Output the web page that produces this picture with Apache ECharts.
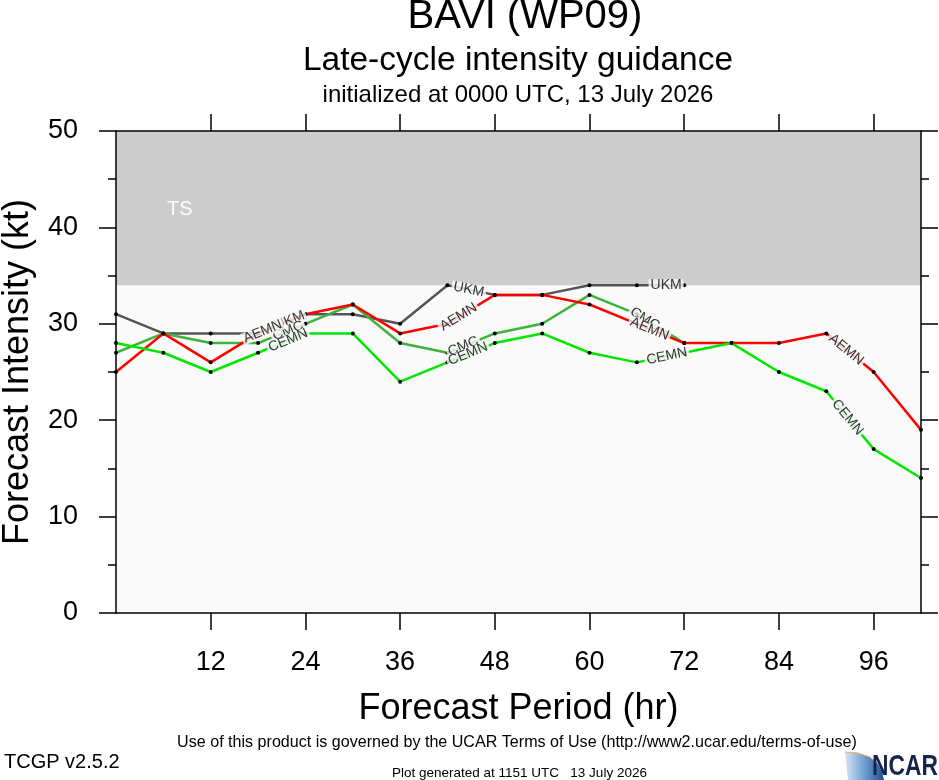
<!DOCTYPE html>
<html><head><meta charset="utf-8">
<script src="https://cdn.jsdelivr.net/npm/echarts@6/dist/echarts.min.js"></script>
<style>html,body{margin:0;padding:0;background:#fff}#c{width:939px;height:780px}</style>
</head><body><div id="c"></div>
<script>
// ---- data ----
const hours = [0,6,12,18,24,30,36,42,48,54,60,66,72,78,84,90,96,102];
const ukm  = [31,29,29,29,31,31,30,34,33,33,34,34,34];
const aemn = [25,29,26,29,31,32,29,30,33,33,32,30,28,28,28,29,25,19];
const cmc  = [27,29,28,28,30,32,28,27,29,30,33,31,28];
const cemn = [28,27,25,27,29,29,24,26,28,29,27,26,27,28,25,23,17,14];
const xTickValues = [12,24,36,48,60,72,84,96];
const tsBand = [34, 50];
const tsLabel = 'TS';
// hour positions of the in-line model labels
const ukmLabelHours  = [22, 44.7, 69.7];
const aemnLabelHours = [18.6, 43.4, 67.6, 92.5];
const cmcLabelHours  = [21.8, 44, 67];
const cemnLabelHours = [21.8, 44.6, 69.8, 92.7];

const FONT = "'Liberation Sans', Arial, Helvetica, sans-serif";
const models = [
  {name:'UKM',  vals:ukm,  color:'#555555', lh:ukmLabelHours},
  {name:'CMC',  vals:cmc,  color:'#3cb43c', lh:cmcLabelHours},
  {name:'AEMN', vals:aemn, color:'#ff0000', lh:aemnLabelHours},
  {name:'CEMN', vals:cemn, color:'#00e600', lh:cemnLabelHours}
];

const chart = echarts.init(document.getElementById('c'), null, {renderer:'canvas'});

function pairs(vals){ return vals.map((v,i)=>[hours[i], v]); }
function segAt(vals, h){
  for (let i=0;i<vals.length-1;i++){ if (h>=hours[i] && h<=hours[i+1]) return i; }
  return vals.length-2;
}
function labelPoints(m, rotFn){
  return m.lh.map(h=>{
    const i = segAt(m.vals, h);
    const t = (h-hours[i])/(hours[i+1]-hours[i]);
    const v = m.vals[i] + t*(m.vals[i+1]-m.vals[i]);
    return {value:[h, v], label:{rotate: rotFn ? rotFn(m.vals, i) : 0}};
  });
}

function axisLine(){ return {show:true, onZero:false, lineStyle:{color:'#000', width:1.5}}; }
function tickStyle(){ return {color:'#000', width:1.5}; }

function buildOption(rotFn){
  const series = [];
  models.forEach((m, k)=>{
    const s = {
      name:m.name, type:'line', data:pairs(m.vals), z:2+k,
      symbol:'circle', symbolSize:4, showSymbol:true,
      itemStyle:{color:'#000'}, lineStyle:{color:m.color, width:2.5},
      emphasis:{disabled:true}, silent:true
    };
    if (k===0){
      s.markArea = {
        silent:true,
        itemStyle:{color:'#cccccc', opacity:1},
        label:{show:true, position:[51,68], color:'#ffffff', fontSize:20, fontFamily:FONT},
        data:[[{name:tsLabel, yAxis:tsBand[0]},{yAxis:tsBand[1]}]]
      };
    }
    series.push(s);
  });
  models.forEach((m)=>{
    series.push({
      type:'scatter', z:20, silent:true, symbolSize:0, itemStyle:{color:'#000'},
      data:labelPoints(m, rotFn),
      label:{show:true, position:'inside', formatter:m.name, color:'#000',
             textBorderWidth:0, textBorderColor:'transparent',
             fontSize:14, fontFamily:FONT, backgroundColor:'#fafafa', padding:[0,2], lineHeight:12},
      emphasis:{disabled:true}
    });
  });
  return {
    animation:false,
    backgroundColor:'#ffffff',
    grid:{left:116, right:18, top:131, bottom:167, show:true, backgroundColor:'#fafafa', borderWidth:0,
          containLabel:false, outerBoundsMode:'none'},
    xAxis:[
      {type:'value', min:0, max:102, position:'bottom', z:30, axisLine:axisLine(),
       axisTick:{show:true, inside:false, length:17, customValues:xTickValues, lineStyle:tickStyle()},
       axisLabel:{show:true, customValues:xTickValues, margin:36, fontSize:27, color:'#000', fontFamily:FONT},
       splitLine:{show:false},
       name:'Forecast Period (hr)', nameLocation:'middle', nameGap:78,
       nameTextStyle:{fontSize:36, color:'#000', fontFamily:FONT}},
      {type:'value', min:0, max:102, position:'top', z:30, axisLine:axisLine(),
       axisTick:{show:true, inside:false, length:17, customValues:xTickValues, lineStyle:tickStyle()},
       axisLabel:{show:false}, splitLine:{show:false}}
    ],
    yAxis:[
      {type:'value', min:0, max:50, interval:10, position:'left', z:30, axisLine:axisLine(),
       axisTick:{show:true, inside:false, length:17, lineStyle:tickStyle()},
       minorTick:{show:true, splitNumber:2, length:8, lineStyle:tickStyle()},
       axisLabel:{show:true, margin:38, fontSize:27, color:'#000', fontFamily:FONT},
       splitLine:{show:false}, minorSplitLine:{show:false},
       name:'Forecast Intensity (kt)', nameLocation:'middle', nameGap:80,
       nameTextStyle:{fontSize:36, color:'#000', fontFamily:FONT}},
      {type:'value', min:0, max:50, interval:10, position:'right', z:30, axisLine:axisLine(),
       axisTick:{show:true, inside:false, length:17, lineStyle:tickStyle()},
       minorTick:{show:true, splitNumber:2, length:8, lineStyle:tickStyle()},
       axisLabel:{show:false}, splitLine:{show:false}, minorSplitLine:{show:false}}
    ],
    graphic:[
      {type:'text', x:525, y:17, style:{text:'BAVI (WP09)', fontSize:40, fontFamily:FONT, fill:'#000', align:'center', verticalAlign:'middle'}},
      {type:'text', x:518, y:61, style:{text:'Late-cycle intensity guidance', fontSize:33.5, fontFamily:FONT, fill:'#000', align:'center', verticalAlign:'middle'}},
      {type:'text', x:518, y:95, style:{text:'initialized at 0000 UTC, 13 July 2026', fontSize:24, fontFamily:FONT, fill:'#000', align:'center', verticalAlign:'middle'}},
      {type:'text', x:517, y:743, style:{text:'Use of this product is governed by the UCAR Terms of Use (http://www2.ucar.edu/terms-of-use)', fontSize:16.1, fontFamily:FONT, fill:'#000', align:'center', verticalAlign:'middle'}},
      {type:'text', x:4, y:762, style:{text:'TCGP v2.5.2', fontSize:20, fontFamily:FONT, fill:'#000', align:'left', verticalAlign:'middle'}},
      {type:'text', x:392, y:773, style:{text:'Plot generated at 1151 UTC   13 July 2026', fontSize:13.5, fontFamily:FONT, fill:'#000', align:'left', verticalAlign:'middle'}},
      {type:'polygon', shape:{points:[[845,752],[858,753],[870,757],[878,764],[882,772],[884,780],[848,780]]},
       style:{fill:new echarts.graphic.LinearGradient(0,0,1,0,[{offset:0,color:'#d6e4f3'},{offset:0.5,color:'#6f9fd0'},{offset:1,color:'#1d4f91'}])}},
      {type:'polyline', shape:{points:[[845,752],[858,753],[870,757],[878,764]]}, style:{stroke:'#f0b060', lineWidth:1, fill:null}},
      {type:'text', x:872, y:767, scaleX:0.76, style:{text:'NCAR', fontSize:30, fontWeight:'bold', fontFamily:FONT, fill:'#14244a', align:'left', verticalAlign:'middle'}}
    ],
    series
  };
}

chart.setOption(buildOption(null));
function rot(vals, i){
  const p1 = chart.convertToPixel({gridIndex:0}, [hours[i], vals[i]]);
  const p2 = chart.convertToPixel({gridIndex:0}, [hours[i+1], vals[i+1]]);
  return -Math.atan2(p2[1]-p1[1], p2[0]-p1[0]) * 180 / Math.PI;
}
chart.setOption(buildOption(rot), {notMerge:true});
</script></body></html>
